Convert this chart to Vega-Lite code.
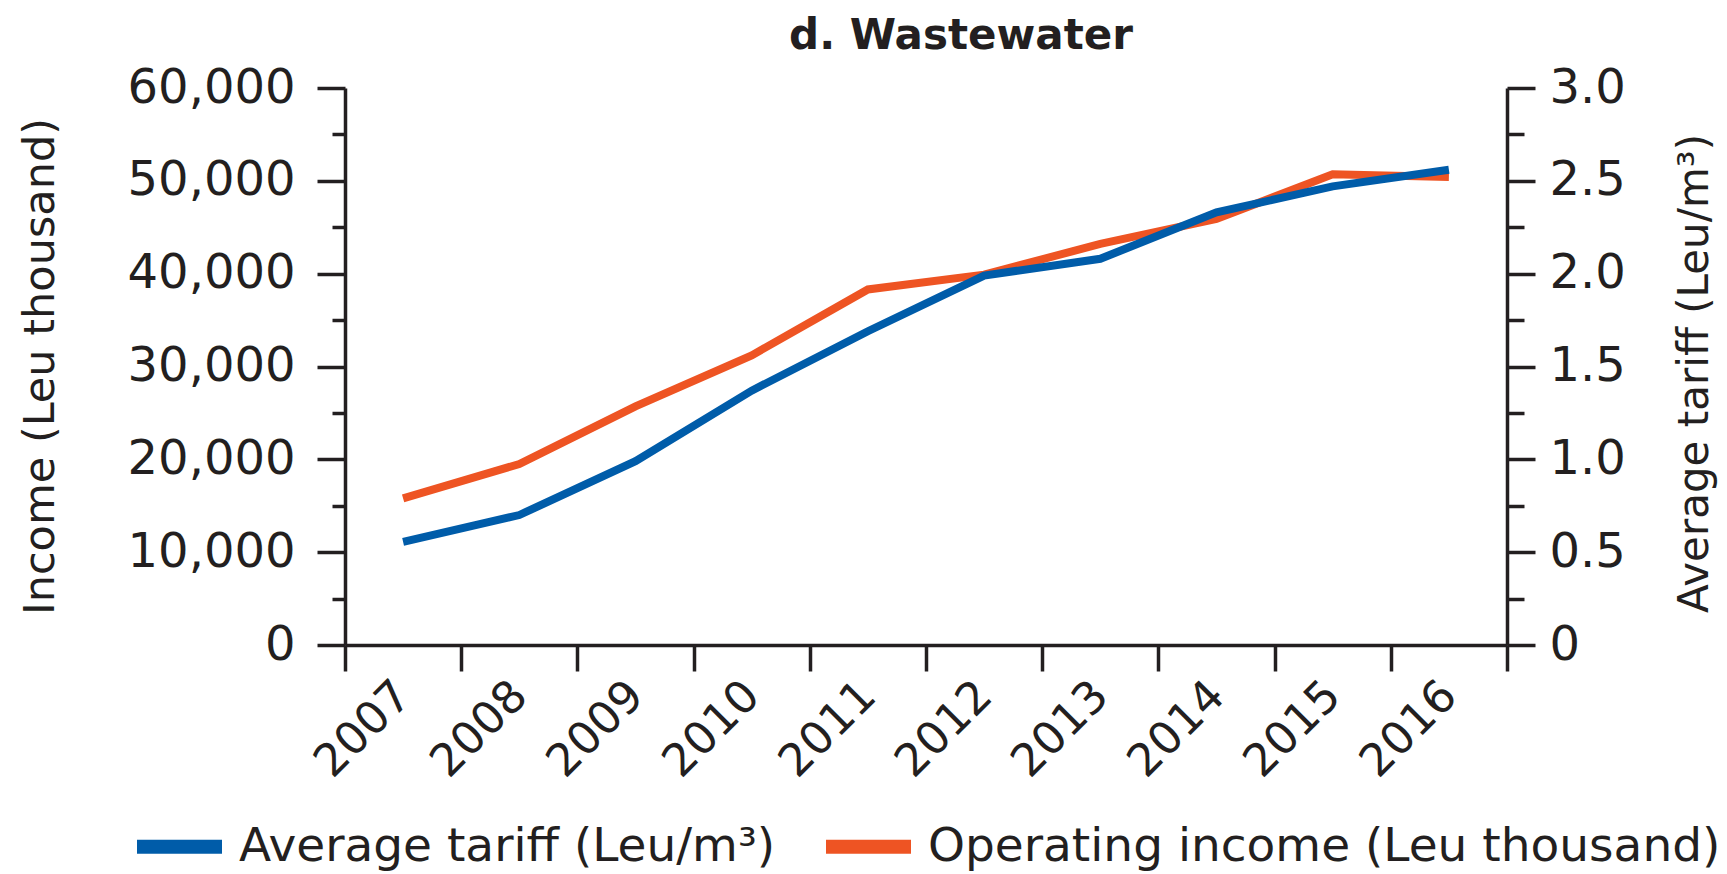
{
  "$schema": "https://vega.github.io/schema/vega-lite/v6.json",
  "autosize": "none",
  "width": 1162,
  "height": 557,
  "padding": {"left": 345, "top": 88, "right": 220, "bottom": 229},
  "background": "white",
  "title": {
    "text": "d. Wastewater",
    "font": "DejaVu Sans",
    "fontSize": 42,
    "fontWeight": "bold",
    "color": "#231f20",
    "anchor": "middle",
    "baseline": "alphabetic",
    "offset": 0,
    "dx": 35,
    "dy": 27
  },
  "data": {
    "values": [
      {"year": "2007", "income": 15800, "tariff": 0.555},
      {"year": "2008", "income": 19500, "tariff": 0.70},
      {"year": "2009", "income": 25700, "tariff": 0.99},
      {"year": "2010", "income": 31200, "tariff": 1.37},
      {"year": "2011", "income": 38300, "tariff": 1.69},
      {"year": "2012", "income": 39900, "tariff": 1.99},
      {"year": "2013", "income": 43200, "tariff": 2.08},
      {"year": "2014", "income": 45900, "tariff": 2.33},
      {"year": "2015", "income": 50700, "tariff": 2.47},
      {"year": "2016", "income": 50400, "tariff": 2.56}
    ]
  },
  "encoding": {
    "x": {
      "field": "year",
      "type": "ordinal",
      "bandPosition": 0.5,
      "scale": {"type": "band", "paddingInner": 0, "paddingOuter": 0},
      "axis": {
        "title": null,
        "tickBand": "extent",
        "labelAngle": -45,
        "labelAlign": "right",
        "labelBaseline": "middle",
        "labelFontSize": 45,
        "tickSize": 26,
        "labelPadding": 17
      }
    }
  },
  "layer": [
    {
      "mark": {"type": "line", "strokeWidth": 8, "strokeJoin": "miter"},
      "encoding": {
        "y": {
          "field": "income",
          "type": "quantitative",
          "scale": {"domain": [0, 60000], "nice": false, "zero": true},
          "axis": {
            "orient": "left",
            "title": "Income (Leu thousand)",
            "titleFontSize": 43,
            "titleX": -305,
            "titleY": 278,
            "titleAlign": "center",
            "titleBaseline": "middle",
            "titleAngle": -90,
            "values": [0, 5000, 10000, 15000, 20000, 25000, 30000, 35000, 40000, 45000, 50000, 55000, 60000],
            "labelExpr": "datum.value % 10000 === 0 ? format(datum.value, ',') : ''",
            "labelFontSize": 48,
            "labelPadding": 22,
            "tickSize": {"condition": {"test": "datum.value % 10000 === 0", "value": 28}, "value": 13}
          }
        },
        "color": {
          "datum": "Operating income (Leu thousand)",
          "type": "nominal",
          "scale": {
            "domain": ["Average tariff (Leu/m³)", "Operating income (Leu thousand)"],
            "range": ["#005ca9", "#ee5423"]
          },
          "legend": {
            "title": null,
            "orient": "none",
            "direction": "horizontal",
            "legendX": -215,
            "legendY": 709,
            "symbolType": "stroke",
            "symbolSize": 7225,
            "symbolStrokeWidth": 14,
            "labelFontSize": 47,
            "labelFont": "DejaVu Sans",
            "labelColor": "#231f20",
            "labelOffset": 10,
            "columnPadding": 22,
            "padding": 0,
            "labelLimit": 1000
          }
        }
      }
    },
    {
      "mark": {"type": "line", "strokeWidth": 8, "strokeJoin": "miter"},
      "encoding": {
        "y": {
          "field": "tariff",
          "type": "quantitative",
          "scale": {"domain": [0, 3], "nice": false, "zero": true},
          "axis": {
            "orient": "right",
            "title": "Average tariff (Leu/m³)",
            "titleFontSize": 42,
            "titleX": 187,
            "titleY": 285,
            "titleAlign": "center",
            "titleBaseline": "middle",
            "titleAngle": -90,
            "values": [0, 0.25, 0.5, 0.75, 1, 1.25, 1.5, 1.75, 2, 2.25, 2.5, 2.75, 3],
            "labelExpr": "datum.value % 0.5 === 0 ? (datum.value === 0 ? '0' : format(datum.value, '.1f')) : ''",
            "labelFontSize": 48,
            "labelPadding": 14,
            "tickSize": {"condition": {"test": "datum.value % 0.5 === 0", "value": 28}, "value": 17}
          }
        },
        "color": {
          "datum": "Average tariff (Leu/m³)",
          "type": "nominal"
        }
      }
    }
  ],
  "resolve": {"scale": {"y": "independent"}, "axis": {"y": "independent"}},
  "config": {
    "view": {"stroke": null},
    "font": "DejaVu Sans",
    "axis": {
      "grid": false,
      "domainColor": "#231f20",
      "domainWidth": 3.5,
      "tickColor": "#231f20",
      "tickWidth": 3.5,
      "labelColor": "#231f20",
      "titleColor": "#231f20",
      "labelFont": "DejaVu Sans",
      "titleFont": "DejaVu Sans",
      "titleFontWeight": "normal",
      "labelOverlap": false,
      "labelFlush": false
    }
  }
}
